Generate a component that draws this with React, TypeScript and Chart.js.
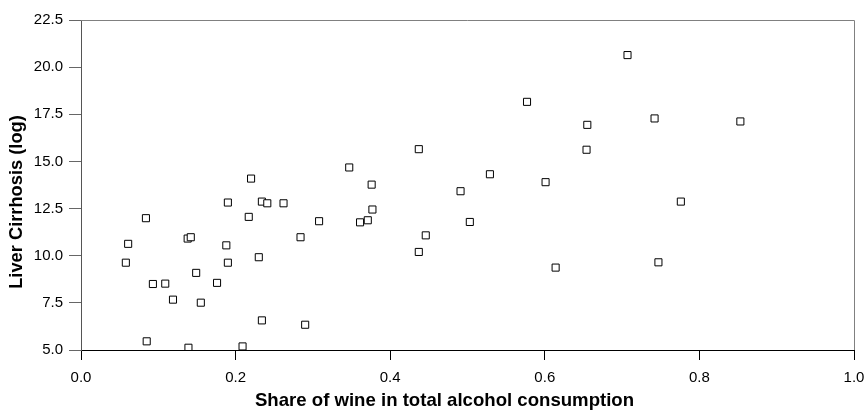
import React, { useEffect, useRef } from "react";
import { Chart, registerables } from "chart.js";

Chart.register(...registerables);

const wineShare: number[] = [
  0.058, 0.061, 0.084, 0.085, 0.093, 0.109, 0.119, 0.138, 0.142, 0.139,
  0.149, 0.155, 0.176, 0.188, 0.190, 0.190, 0.209, 0.217, 0.220, 0.230,
  0.234, 0.234, 0.241, 0.262, 0.284, 0.290, 0.308, 0.347, 0.361, 0.371,
  0.376, 0.377, 0.437, 0.437, 0.446, 0.491, 0.503, 0.529, 0.577, 0.601,
  0.614, 0.707, 0.655, 0.654, 0.742, 0.853, 0.776, 0.747,
];

const cirrhosis: number[] = [
  9.63, 10.63, 11.99, 5.46, 8.50, 8.52, 7.67, 10.91, 10.98, 5.12,
  9.09, 7.51, 8.56, 10.55, 12.82, 9.63, 5.19, 12.06, 14.09, 9.92,
  12.87, 6.57, 12.78, 12.78, 10.98, 6.34, 11.83, 14.68, 11.77, 11.88,
  13.77, 12.45, 15.65, 10.20, 11.08, 13.42, 11.79, 14.32, 18.16, 13.90,
  9.37, 20.64, 16.94, 15.62, 17.28, 17.12, 12.87, 9.65,
];

const xTitle = "Share of wine in total alcohol consumption";
const yTitle = "Liver Cirrhosis (log)";

const FONT = "'Liberation Sans', Arial, sans-serif";

const frameAndTitles = {
  id: "frameAndTitles",
  afterDraw(chart: any) {
    const { ctx, chartArea } = chart;
    const { left, right, top, bottom } = chartArea;
    ctx.save();
    ctx.strokeStyle = "#808080";
    ctx.lineWidth = 1;
    ctx.beginPath();
    ctx.moveTo(left, Math.round(top) + 0.5);
    ctx.lineTo(Math.round(right) + 0.5, Math.round(top) + 0.5);
    ctx.lineTo(Math.round(right) + 0.5, bottom);
    ctx.stroke();

    ctx.fillStyle = "#000";
    ctx.font = `bold 18.6px ${FONT}`;
    ctx.textAlign = "center";
    ctx.textBaseline = "alphabetic";
    ctx.fillText(xTitle, 444.5, 406);

    ctx.translate(21.5, 202);
    ctx.rotate(-Math.PI / 2);
    ctx.font = `bold 18.3px ${FONT}`;
    ctx.fillText(yTitle, 0, 0);
    ctx.restore();
  },
};

export default function App() {
  const canvasRef = useRef<HTMLCanvasElement | null>(null);

  useEffect(() => {
    if (!canvasRef.current) return;
    const data = wineShare.map((x, i) => ({ x, y: cirrhosis[i] }));
    const chart = new Chart(canvasRef.current, {
      type: "scatter",
      data: {
        datasets: [
          {
            data,
            pointStyle: "rect",
            pointRadius: 5,
            pointBorderWidth: 1,
            pointBorderColor: "#000",
            pointBackgroundColor: "#fff",
          },
        ],
      },
      options: {
        animation: false,
        responsive: false,
        maintainAspectRatio: false,
        layout: { padding: { left: 0, right: 14, top: 20, bottom: 0 } },
        plugins: {
          legend: { display: false },
          tooltip: { enabled: false },
        },
        scales: {
          x: {
            type: "linear",
            min: 0,
            max: 1,
            ticks: {
              stepSize: 0.2,
              color: "#000",
              font: { family: FONT, size: 15 },
              padding: 9,
              callback: (v: any) => Number(v).toFixed(1),
            },
            grid: {
              display: true,
              drawOnChartArea: false,
              drawTicks: true,
              tickLength: 10,
              color: "#000",
            },
            border: { display: true, color: "#000", width: 1 },
            title: { display: false },
            afterFit: (s: any) => {
              s.height = 60;
              s.paddingRight = 0;
              s.paddingLeft = 0;
            },
          },
          y: {
            type: "linear",
            min: 5,
            max: 22.5,
            ticks: {
              stepSize: 2.5,
              color: "#000",
              font: { family: FONT, size: 15 },
              padding: 6,
              callback: (v: any) => Number(v).toFixed(1),
            },
            grid: {
              display: true,
              drawOnChartArea: false,
              drawTicks: true,
              tickLength: 12,
              color: "#666",
            },
            border: { display: true, color: "#555", width: 1 },
            title: { display: false },
            afterFit: (s: any) => {
              s.width = 81;
            },
          },
        },
      },
      plugins: [frameAndTitles],
    });
    return () => chart.destroy();
  }, []);

  return (
    <div style={{ position: "fixed", left: 0, top: 0, width: 868, height: 410, background: "#fff" }}>
      <canvas ref={canvasRef} width={868} height={410} style={{ width: 868, height: 410 }} />
    </div>
  );
}
